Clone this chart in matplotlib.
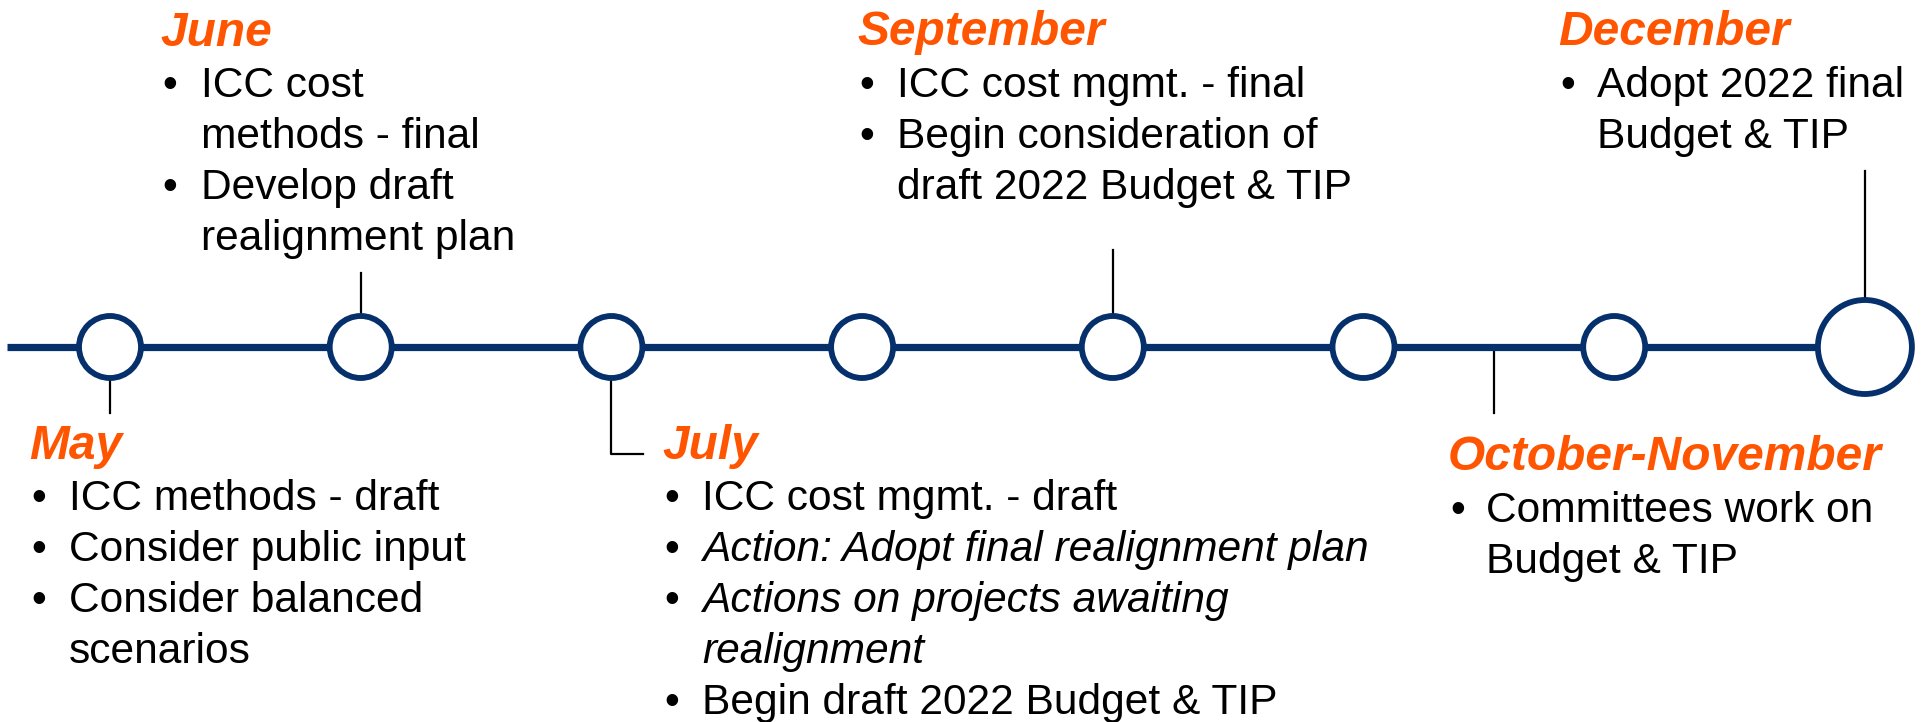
import matplotlib
matplotlib.use("Agg")
import matplotlib.pyplot as plt
from matplotlib.patches import Circle

# ---- data ----
months = ["May", "June", "July", "September", "October-November", "December"]
items = {
    "May": [("ICC methods - draft", False), ("Consider public input", False),
            ("Consider balanced\nscenarios", False)],
    "June": [("ICC cost\nmethods - final", False), ("Develop draft\nrealignment plan", False)],
    "July": [("ICC cost mgmt. - draft", False), ("Action: Adopt final realignment plan", True),
             ("Actions on projects awaiting\nrealignment", True), ("Begin draft 2022 Budget & TIP", False)],
    "September": [("ICC cost mgmt. - final", False),
                  ("Begin consideration of\ndraft 2022 Budget & TIP", False)],
    "October-November": [("Committees work on\nBudget & TIP", False)],
    "December": [("Adopt 2022 final\nBudget & TIP", False)],
}
n_nodes = 8

# ---- layout / style ----
W, H = 1921, 722
ORANGE = "#FF5500"
NAVY = "#05306B"
FONT = "Liberation Sans"
BODY_FS = 30.6
HEAD_FS = 34.5
LINE_H = 51

line_y = 347
x0, step = 110, 250.7
node_x = [x0 + i * step for i in range(n_nodes)]
r_small, r_big = 31, 47

fig = plt.figure(figsize=(W / 100, H / 100), dpi=100)
ax = fig.add_axes([0, 0, 1, 1])
ax.set_xlim(0, W)
ax.set_ylim(H, 0)
ax.axis("off")

# main line
ax.plot([7, node_x[-1]], [line_y, line_y], color=NAVY, lw=5.2, solid_capstyle="butt", zorder=1)
for i, x in enumerate(node_x):
    r = r_big if i == n_nodes - 1 else r_small
    ax.add_patch(Circle((x, line_y), r, facecolor="white", edgecolor=NAVY, lw=4.2, zorder=2))

# connectors
CL = dict(color="black", lw=1.6, zorder=0.5)
ax.plot([node_x[0], node_x[0]], [line_y + r_small + 3, 413], **CL)
ax.plot([node_x[1], node_x[1]], [273, line_y - r_small - 3], **CL)
ax.plot([node_x[2], node_x[2], 643], [line_y + r_small + 3, 454, 454], **CL)
ax.plot([node_x[4], node_x[4]], [250, line_y - r_small - 3], **CL)
xon = 1494
ax.plot([xon, xon], [line_y + 2, 413], **CL)
ax.plot([node_x[7], node_x[7]], [171, line_y - r_big - 2], **CL)

# text blocks: (month, left x, heading baseline, first item baseline, text indent)
blocks = [
    ("May", 31, 459, 510, 38),
    ("June", 162, 46, 97, 39),
    ("July", 664, 459, 510, 38),
    ("September", 859, 45, 97, 38),
    ("October-November", 1450, 470, 522, 36),
    ("December", 1560, 45, 97, 37),
]

for m, bx, hy, y1, ind in blocks:
    ax.text(bx - 2, hy, m, fontsize=HEAD_FS, color=ORANGE, fontweight="bold", style="italic",
            family=FONT, va="baseline", ha="left")
    y = y1
    for txt, ital in items[m]:
        ax.text(bx, y, "\u2022", fontsize=BODY_FS, color="black", family=FONT, va="baseline", ha="left")
        for ln in txt.split("\n"):
            ax.text(bx + ind, y, ln, fontsize=BODY_FS, color="black", family=FONT,
                    style="italic" if ital else "normal", va="baseline", ha="left")
            y += LINE_H

fig.savefig("out.png", dpi=100, facecolor="white")
